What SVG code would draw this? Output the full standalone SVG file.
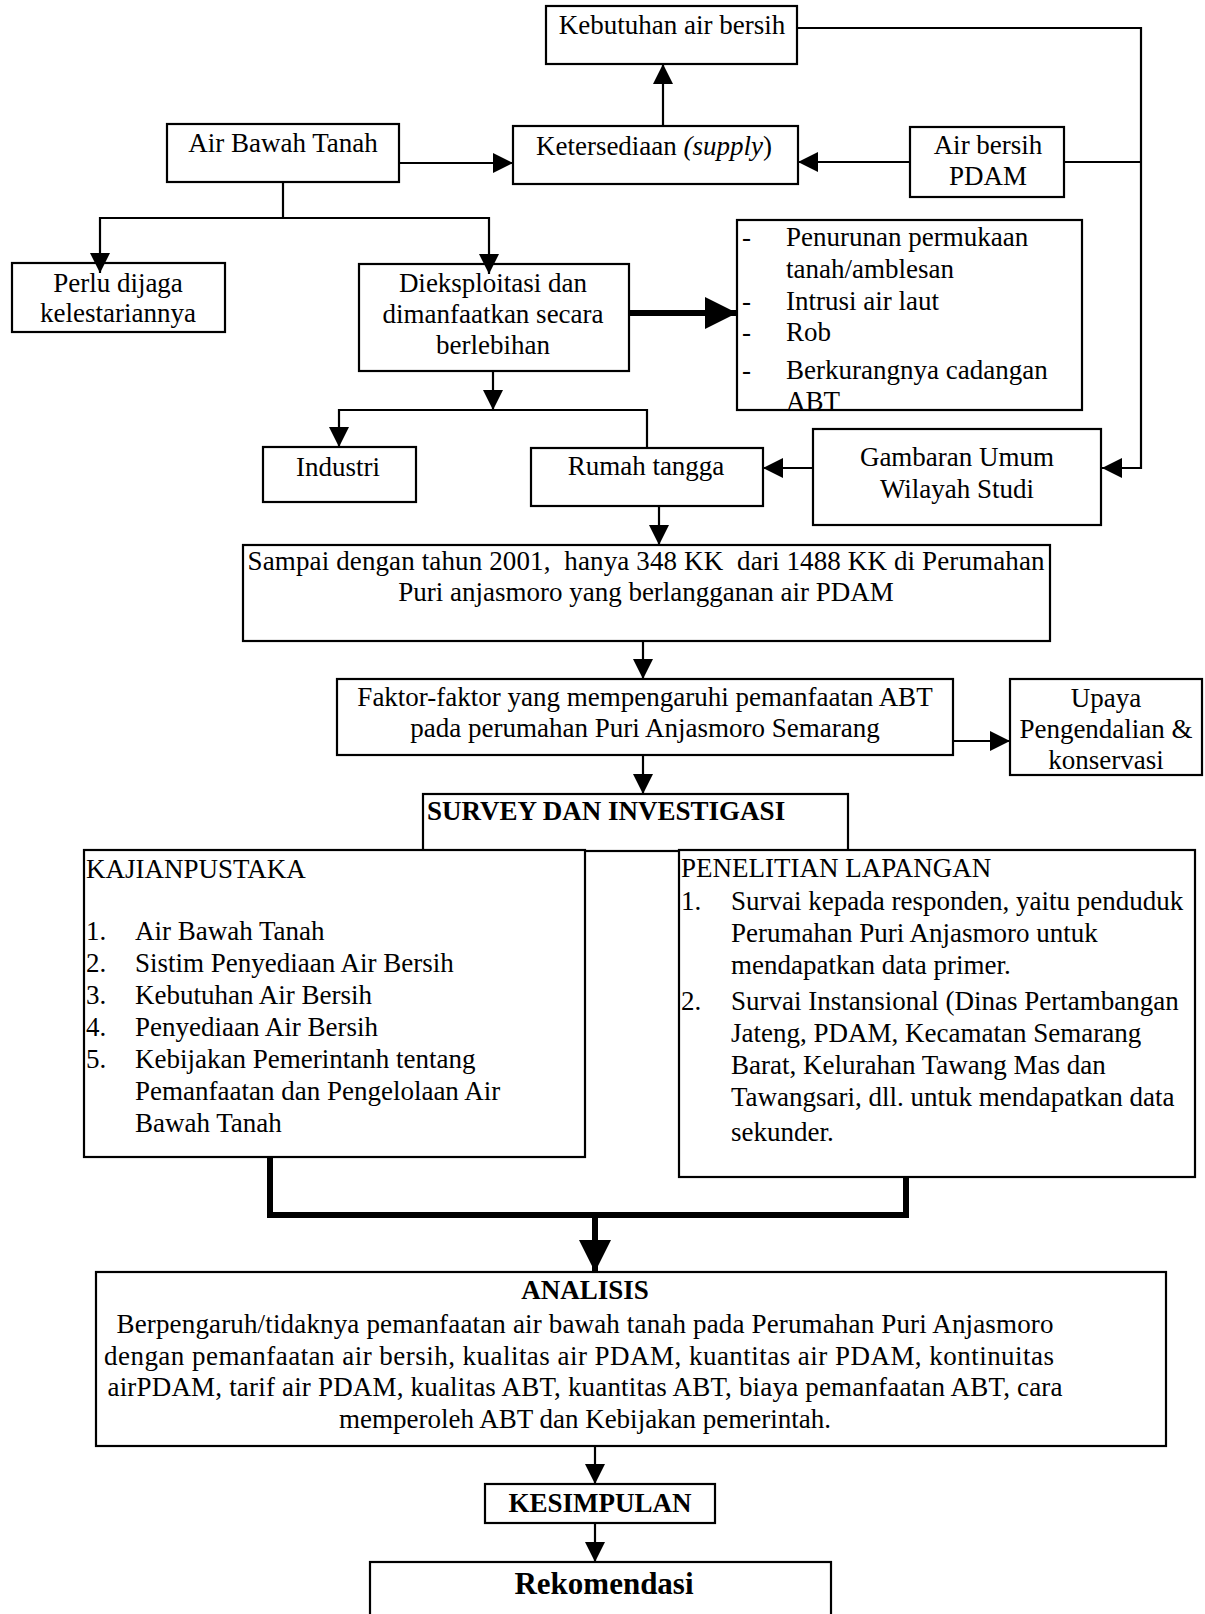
<svg xmlns="http://www.w3.org/2000/svg" width="1205" height="1614" viewBox="0 0 1205 1614">
<defs>
<style>
text{font-family:"Liberation Serif","Times New Roman",serif;font-size:27px;fill:#000}
.c{text-anchor:middle}
.b{font-weight:bold}
.box{fill:#fff;stroke:#000;stroke-width:2.2}
.ln{fill:none;stroke:#000;stroke-width:2.2}
.thick{fill:none;stroke:#000;stroke-width:6}
</style>
<marker id="ah" viewBox="0 0 20 20" refX="20" refY="10" markerWidth="20" markerHeight="20" markerUnits="userSpaceOnUse" orient="auto"><path d="M0,0 L20,10 L0,20 z" fill="#000"/></marker>
<marker id="ahT" viewBox="0 0 32 32" refX="32" refY="16" markerWidth="32" markerHeight="32" markerUnits="userSpaceOnUse" orient="auto"><path d="M0,0 L32,16 L0,32 z" fill="#000"/></marker>
</defs>
<rect width="1205" height="1614" fill="#fff"/>

<g id="n-kebutuhan"><rect class="box" x="546" y="6" width="251" height="58"/><text class="c" x="672" y="34">Kebutuhan air bersih</text></g>
<g id="n-abt"><rect class="box" x="167" y="124" width="232" height="58"/><text class="c" x="283" y="152">Air Bawah Tanah</text></g>
<g id="n-ketersediaan"><rect class="box" x="513" y="126" width="285" height="58"/><text class="c" x="654" y="155">Ketersediaan <tspan font-style="italic">(supply</tspan>)</text></g>
<g id="n-pdam"><rect class="box" x="910" y="127" width="154" height="70"/><text class="c" x="988" y="154">Air bersih</text><text class="c" x="988" y="185">PDAM</text></g>
<g id="n-perlu"><rect class="box" x="12" y="263" width="213" height="69"/><text class="c" x="118" y="292">Perlu dijaga</text><text class="c" x="118" y="322">kelestariannya</text></g>
<g id="n-dieks"><rect class="box" x="359" y="264" width="270" height="107"/><text class="c" x="493" y="292">Dieksploitasi dan</text><text class="c" x="493" y="323">dimanfaatkan secara</text><text class="c" x="493" y="354">berlebihan</text></g>
<g id="n-dampak"><rect class="box" x="737" y="220" width="345" height="190"/>
<text x="742" y="246">-</text><text x="786" y="246">Penurunan permukaan</text>
<text x="786" y="278">tanah/amblesan</text>
<text x="742" y="310">-</text><text x="786" y="310">Intrusi air laut</text>
<text x="742" y="341">-</text><text x="786" y="341">Rob</text>
<text x="742" y="379">-</text><text x="786" y="379">Berkurangnya cadangan</text>
<text x="786" y="410">ABT</text></g>
<g id="n-industri"><rect class="box" x="263" y="447" width="153" height="55"/><text class="c" x="338" y="476">Industri</text></g>
<g id="n-rumah"><rect class="box" x="531" y="448" width="232" height="58"/><text class="c" x="646" y="475">Rumah tangga</text></g>
<g id="n-gambaran"><rect class="box" x="813" y="429" width="288" height="96"/><text class="c" x="957" y="466">Gambaran Umum</text><text class="c" x="957" y="498">Wilayah Studi</text></g>
<g id="n-sampai"><rect class="box" x="243" y="545" width="807" height="96"/><text class="c" x="646" y="570" xml:space="preserve" textLength="797" lengthAdjust="spacing">Sampai dengan tahun 2001,  hanya 348 KK  dari 1488 KK di Perumahan</text><text class="c" x="646" y="601">Puri anjasmoro yang berlangganan air PDAM</text></g>
<g id="n-faktor"><rect class="box" x="337" y="679" width="616" height="76"/><text class="c" x="645" y="706">Faktor-faktor yang mempengaruhi pemanfaatan ABT</text><text class="c" x="645" y="737">pada perumahan Puri Anjasmoro Semarang</text></g>
<g id="n-upaya"><rect class="box" x="1010" y="679" width="192" height="96"/><text class="c" x="1106" y="707">Upaya</text><text class="c" x="1106" y="738">Pengendalian &amp;</text><text class="c" x="1106" y="769">konservasi</text></g>
<g id="n-survey"><rect class="box" x="423" y="794" width="425" height="57"/><text class="b" x="427" y="820">SURVEY DAN INVESTIGASI</text></g>
<g id="n-kajian"><rect class="box" x="84" y="850" width="501" height="307"/>
<text x="86" y="878">KAJIANPUSTAKA</text>
<text x="86" y="940">1.</text><text x="135" y="940">Air Bawah Tanah</text>
<text x="86" y="972">2.</text><text x="135" y="972">Sistim Penyediaan Air Bersih</text>
<text x="86" y="1004">3.</text><text x="135" y="1004">Kebutuhan Air Bersih</text>
<text x="86" y="1036">4.</text><text x="135" y="1036">Penyediaan Air Bersih</text>
<text x="86" y="1068">5.</text><text x="135" y="1068">Kebijakan Pemerintanh tentang</text>
<text x="135" y="1100">Pemanfaatan dan Pengelolaan Air</text>
<text x="135" y="1132">Bawah Tanah</text></g>
<g id="n-penelitian"><rect class="box" x="679" y="850" width="516" height="327"/>
<text x="681" y="877">PENELITIAN LAPANGAN</text>
<text x="681" y="910">1.</text><text x="731" y="910">Survai kepada responden, yaitu penduduk</text>
<text x="731" y="942">Perumahan Puri Anjasmoro untuk</text>
<text x="731" y="974">mendapatkan data primer.</text>
<text x="681" y="1010">2.</text><text x="731" y="1010">Survai Instansional (Dinas Pertambangan</text>
<text x="731" y="1042">Jateng, PDAM, Kecamatan Semarang</text>
<text x="731" y="1074">Barat, Kelurahan Tawang Mas dan</text>
<text x="731" y="1106">Tawangsari, dll. untuk mendapatkan data</text>
<text x="731" y="1141">sekunder.</text></g>
<g id="n-analisis"><rect class="box" x="96" y="1272" width="1070" height="174"/>
<text class="c b" x="585" y="1299">ANALISIS</text>
<text class="c" x="585" y="1333" textLength="937" lengthAdjust="spacing">Berpengaruh/tidaknya pemanfaatan air bawah tanah pada Perumahan Puri Anjasmoro</text>
<text class="c" x="579" y="1365" textLength="950" lengthAdjust="spacing">dengan pemanfaatan air bersih, kualitas air PDAM, kuantitas air PDAM, kontinuitas</text>
<text class="c" x="585" y="1396" textLength="955" lengthAdjust="spacing">airPDAM, tarif air PDAM, kualitas ABT, kuantitas ABT, biaya pemanfaatan ABT, cara</text>
<text class="c" x="585" y="1428">memperoleh ABT dan Kebijakan pemerintah.</text></g>
<g id="n-kesimpulan"><rect class="box" x="485" y="1484" width="230" height="39"/><text class="c b" x="600" y="1512">KESIMPULAN</text></g>
<g id="n-rekomendasi"><rect class="box" x="370" y="1562" width="461" height="70"/><text class="c b" x="604" y="1594" style="font-size:31px">Rekomendasi</text></g>

<g id="connectors">
<line class="ln" x1="663" y1="126" x2="663" y2="64" marker-end="url(#ah)"/>
<line class="ln" x1="399" y1="163" x2="513" y2="163" marker-end="url(#ah)"/>
<line class="ln" x1="910" y1="162" x2="798" y2="162" marker-end="url(#ah)"/>
<polyline class="ln" points="797,28 1141,28 1141,468 1102,468" marker-end="url(#ah)"/>
<line class="ln" x1="1064" y1="162" x2="1141" y2="162"/>
<polyline class="ln" points="283,182 283,218"/>
<polyline class="ln" points="100,218 489,218"/>
<line class="ln" x1="100" y1="217" x2="100" y2="273" marker-end="url(#ah)"/>
<line class="ln" x1="489" y1="217" x2="489" y2="274" marker-end="url(#ah)"/>
<line class="thick" x1="629" y1="313" x2="737" y2="313" marker-end="url(#ahT)"/>
<line class="ln" x1="493" y1="371" x2="493" y2="410" marker-end="url(#ah)"/>
<polyline class="ln" points="339,410 647,410 647,448"/>
<line class="ln" x1="339" y1="409" x2="339" y2="447" marker-end="url(#ah)"/>
<line class="ln" x1="813" y1="468" x2="763" y2="468" marker-end="url(#ah)"/>
<line class="ln" x1="659" y1="506" x2="659" y2="545" marker-end="url(#ah)"/>
<line class="ln" x1="643" y1="641" x2="643" y2="679" marker-end="url(#ah)"/>
<line class="ln" x1="953" y1="741" x2="1010" y2="741" marker-end="url(#ah)"/>
<line class="ln" x1="643" y1="755" x2="643" y2="794" marker-end="url(#ah)"/>
<polyline class="thick" points="270,1157 270,1215 906,1215 906,1177"/>
<line class="thick" x1="595" y1="1215" x2="595" y2="1272" marker-end="url(#ahT)"/>
<line class="ln" x1="595" y1="1446" x2="595" y2="1484" marker-end="url(#ah)"/>
<line class="ln" x1="595" y1="1523" x2="595" y2="1562" marker-end="url(#ah)"/>
</g>
</svg>
